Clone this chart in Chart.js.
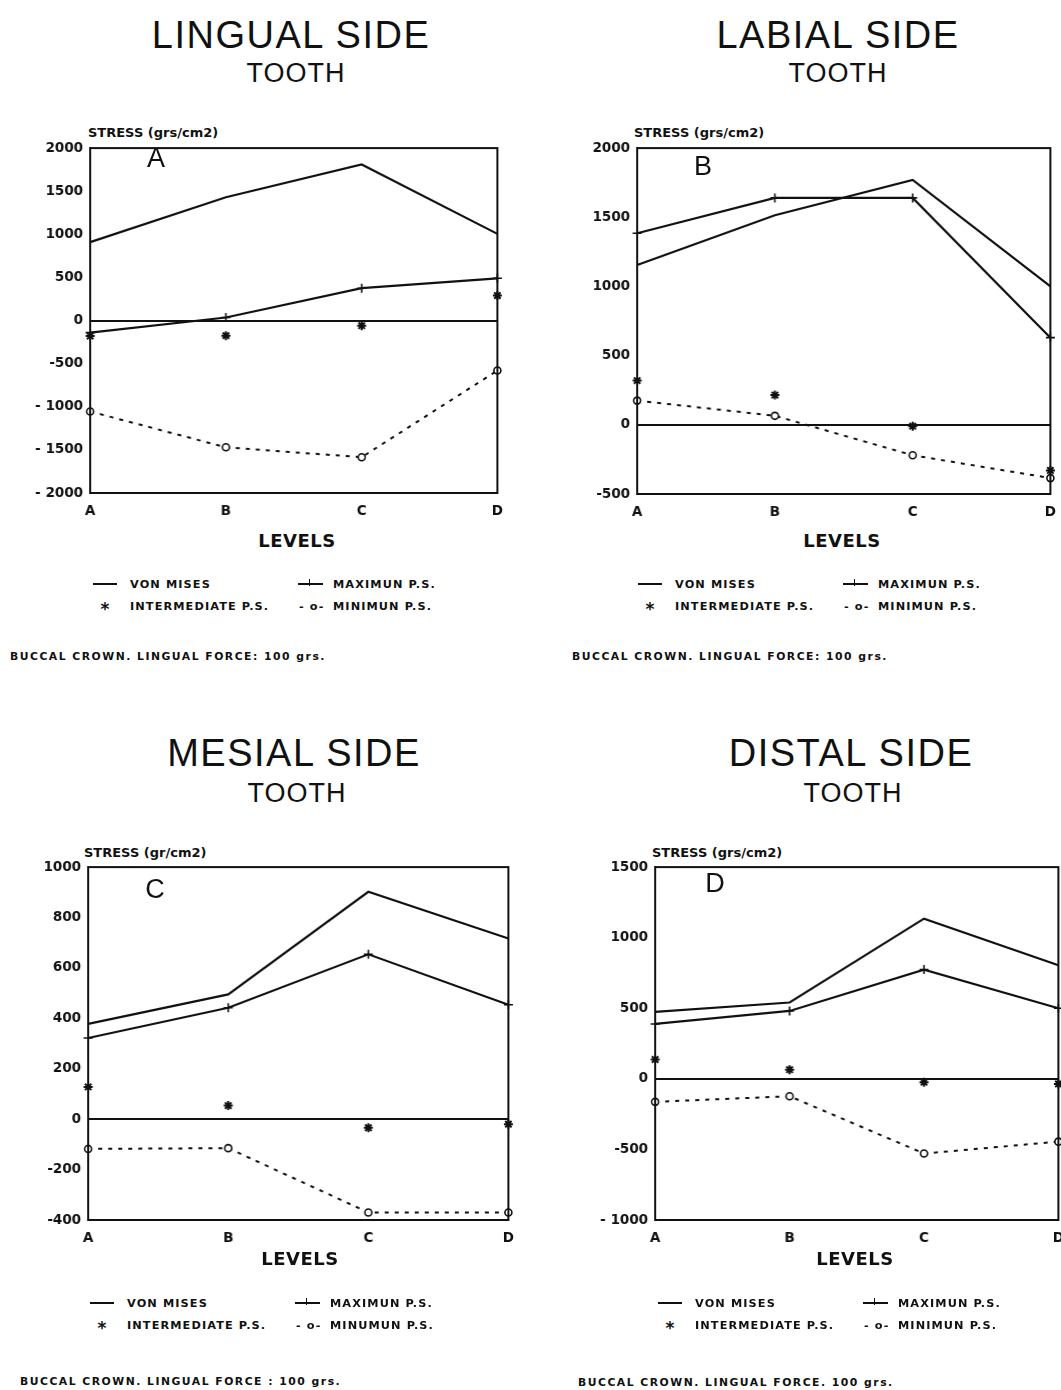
<!DOCTYPE html>
<html>
<head>
<meta charset="utf-8">
<script src="https://cdn.jsdelivr.net/npm/chart.js@4.4.1/dist/chart.umd.min.js"></script>
<style>
  html, body { margin: 0; padding: 0; background: #fff; }
  body { position: relative; width: 1061px; height: 1390px; overflow: hidden; color: #111; }
  .abs { position: absolute; white-space: nowrap; }
  .title { font-family: "Liberation Sans", Arial, sans-serif; font-size: 38px; letter-spacing: 1.5px; transform: translate(-50%, -50%); }
  .sub { font-family: "Liberation Sans", Arial, sans-serif; font-size: 27px; letter-spacing: 1px; transform: translate(-50%, -50%); }
  .bold { font-family: "DejaVu Sans", sans-serif; font-weight: bold; }
  .ylab { font-size: 13px; transform: translateY(-50%); }
  .letter { font-family: "Liberation Sans", Arial, sans-serif; font-size: 27px; transform: translate(-50%, -50%); }
  .levels { font-size: 18px; letter-spacing: 0.5px; transform: translate(-50%, -50%); }
  .leg { font-size: 11.3px; letter-spacing: 1.1px; transform: translateY(-50%); }
  .star { font-size: 17px; transform: translate(-50%, -35%); }
  .foot { font-size: 10.8px; letter-spacing: 1.5px; transform: translateY(-50%); }
  .swatch { position: absolute; height: 0; border-top: 2px solid #111; transform: translateY(-1px); }
  .wrap { position: absolute; }
</style>
</head>
<body>

<script>
// x categories
const levels = ['A', 'B', 'C', 'D'];

// LINGUAL SIDE (A)
const vonMisesA = [910, 1430, 1810, 1005];
const maxPSA = [-140, 35, 375, 490];
const interPSA = [-180, -175, -60, 290];
const minPSA = [-1055, -1470, -1585, -580];
const yTicksA = [-2000, -1500, -1000, -500, 0, 500, 1000, 1500, 2000];
const yLabelsA = ['- 2000', '- 1500', '- 1000', '-500', '0', '500', '1000', '1500', '2000'];

// LABIAL SIDE (B)
const vonMisesB = [1155, 1515, 1770, 1000];
const maxPSB = [1385, 1640, 1640, 630];
const interPSB = [320, 215, -10, -330];
const minPSB = [175, 65, -220, -385];
const yTicksB = [-500, 0, 500, 1000, 1500, 2000];
const yLabelsB = ['-500', '0', '500', '1000', '1500', '2000'];

// MESIAL SIDE (C)
const vonMisesC = [378, 495, 902, 717];
const maxPSC = [322, 442, 654, 454];
const interPSC = [128, 54, -34, -20];
const minPSC = [-118, -115, -370, -370];
const yTicksC = [-400, -200, 0, 200, 400, 600, 800, 1000];
const yLabelsC = ['-400', '-200', '0', '200', '400', '600', '800', '1000'];

// DISTAL SIDE (D)
const vonMisesD = [474, 541, 1135, 805];
const maxPSD = [389, 481, 774, 500];
const interPSD = [137, 65, -24, -36];
const minPSD = [-163, -123, -529, -445];
const yTicksD = [-1000, -500, 0, 500, 1000, 1500];
const yLabelsD = ['- 1000', '-500', '0', '500', '1000', '1500'];

const INK = '#111';

// box round the plot area, like the original plotter frame
const framePlugin = {
    id: 'frame',
    afterDraw(chart) {
        const { ctx, chartArea: a } = chart;
        ctx.save();
        ctx.strokeStyle = INK;
        ctx.lineWidth = 2;
        ctx.strokeRect(a.left, a.top, a.right - a.left, a.bottom - a.top);
        ctx.restore();
    }
};

function addText(cls, x, y, text) {
    const el = document.createElement('div');
    el.className = 'abs ' + cls;
    el.style.left = x + 'px';
    el.style.top = y + 'px';
    el.textContent = text;
    document.body.appendChild(el);
    return el;
}

function addSwatch(x, y, w) {
    const el = document.createElement('div');
    el.className = 'swatch';
    el.style.left = x + 'px';
    el.style.top = y + 'px';
    el.style.width = w + 'px';
    document.body.appendChild(el);
    return el;
}

function addLegend(x, y, minText) {
    // row 1
    addSwatch(x, y, 24);
    addText('bold leg', x + 37, y, 'VON MISES');
    addSwatch(x + 205, y, 25);
    const tick = addSwatch(x + 216, y - 4, 0);
    tick.style.borderTop = 'none';
    tick.style.borderLeft = '1.5px solid #111';
    tick.style.height = '7px';
    addText('bold leg', x + 240, y, 'MAXIMUN P.S.');
    // row 2
    addText('bold star', x + 12, y + 22, '*');
    addText('bold leg', x + 37, y + 22, 'INTERMEDIATE P.S.');
    addText('bold leg', x + 206, y + 22, '- o-');
    addText('bold leg', x + 240, y + 22, minText);
}

function chartConfig(p) {
    const tickFont = { family: 'DejaVu Sans', weight: 'bold', size: 13.5 };
    return {
        type: 'line',
        data: {
            labels: levels,
            datasets: [
                {
                    label: 'VON MISES',
                    data: p.vonMises,
                    borderColor: INK,
                    borderWidth: 2.2,
                    pointRadius: 0
                },
                {
                    label: 'MAXIMUN P.S.',
                    data: p.maxPS,
                    borderColor: INK,
                    borderWidth: 2.2,
                    pointStyle: 'cross',
                    pointRadius: 4.5,
                    pointBorderWidth: 1.6,
                    pointBorderColor: INK
                },
                {
                    label: 'INTERMEDIATE P.S.',
                    data: p.interPS,
                    showLine: false,
                    pointStyle: 'star',
                    pointRadius: 4.5,
                    pointBorderWidth: 2,
                    pointBorderColor: INK
                },
                {
                    label: 'MINIMUN P.S.',
                    data: p.minPS,
                    borderColor: INK,
                    borderWidth: 2,
                    borderDash: [4, 6],
                    pointStyle: 'circle',
                    pointRadius: 3.5,
                    pointBorderWidth: 1.6,
                    pointBorderColor: INK,
                    pointBackgroundColor: '#fff'
                }
            ]
        },
        options: {
            responsive: false,
            animation: false,
            layout: { padding: { top: 10, right: 10, left: 0, bottom: 0 } },
            plugins: {
                legend: { display: false },
                tooltip: { enabled: false }
            },
            scales: {
                x: {
                    offset: false,
                    grid: { display: false, drawTicks: false },
                    border: { color: INK, width: 2 },
                    ticks: { color: INK, font: tickFont, padding: 10, maxRotation: 0, autoSkip: false },
                    afterFit(s) { s.height = 32; }
                },
                y: {
                    min: p.yTicks[0],
                    max: p.yTicks[p.yTicks.length - 1],
                    afterBuildTicks(s) { s.ticks = p.yTicks.map(v => ({ value: v })); },
                    grid: {
                        drawTicks: false,
                        color: ctx => (ctx.tick && ctx.tick.value === 0 ? INK : 'rgba(0,0,0,0)'),
                        lineWidth: 2
                    },
                    border: { color: INK, width: 2 },
                    ticks: {
                        color: INK,
                        font: tickFont,
                        padding: 7,
                        callback: (v, i) => p.yLabels[i]
                    },
                    afterFit(s) { s.width = 85; }
                }
            }
        },
        plugins: [framePlugin]
    };
}

function makeChart(p) {
    const wrap = document.createElement('div');
    wrap.className = 'wrap';
    document.body.appendChild(wrap);
    let w = p.right - p.left + 100;
    let h = p.bottom - p.top + 45;

    function build() {
        wrap.innerHTML = '';
        const canvas = document.createElement('canvas');
        canvas.width = w;
        canvas.height = h;
        canvas.style.width = w + 'px';
        canvas.style.height = h + 'px';
        wrap.appendChild(canvas);
        return new Chart(canvas, chartConfig(p));
    }

    // first pass to measure the plot area, second pass sized so it lands on the target box
    let chart = build();
    const a = chart.chartArea;
    w += (p.right - p.left) - (a.right - a.left);
    h += (p.bottom - p.top) - (a.bottom - a.top);
    chart.destroy();
    chart = build();
    const b = chart.chartArea;
    wrap.style.left = (p.left - b.left) + 'px';
    wrap.style.top = (p.top - b.top) + 'px';
    return chart;
}

// ---- panel A
addText('title', 291, 35, 'LINGUAL  SIDE');
addText('sub', 296, 73, 'TOOTH');
addText('bold ylab', 88, 132, 'STRESS (grs/cm2)');
makeChart({ left: 90, right: 497, top: 148, bottom: 493,
    vonMises: vonMisesA, maxPS: maxPSA, interPS: interPSA, minPS: minPSA,
    yTicks: yTicksA, yLabels: yLabelsA });
addText('letter', 156, 158, 'A');
addText('bold levels', 297, 540, 'LEVELS');
addLegend(93, 584, 'MINIMUN P.S.');
addText('bold foot', 10, 656, 'BUCCAL CROWN. LINGUAL FORCE: 100 grs.');

// ---- panel B
addText('title', 838, 35, 'LABIAL  SIDE');
addText('sub', 838, 73, 'TOOTH');
addText('bold ylab', 634, 132, 'STRESS (grs/cm2)');
makeChart({ left: 637, right: 1050, top: 148, bottom: 494,
    vonMises: vonMisesB, maxPS: maxPSB, interPS: interPSB, minPS: minPSB,
    yTicks: yTicksB, yLabels: yLabelsB });
addText('letter', 703, 166, 'B');
addText('bold levels', 842, 540, 'LEVELS');
addLegend(638, 584, 'MINIMUN P.S.');
addText('bold foot', 572, 656, 'BUCCAL CROWN. LINGUAL FORCE: 100 grs.');

// ---- panel C
addText('title', 294, 753, 'MESIAL  SIDE');
addText('sub', 297, 793, 'TOOTH');
addText('bold ylab', 84, 852, 'STRESS (gr/cm2)');
makeChart({ left: 88, right: 508, top: 867, bottom: 1220,
    vonMises: vonMisesC, maxPS: maxPSC, interPS: interPSC, minPS: minPSC,
    yTicks: yTicksC, yLabels: yLabelsC });
addText('letter', 155, 889, 'C');
addText('bold levels', 300, 1258, 'LEVELS');
addLegend(90, 1303, 'MINUMUN P.S.');
addText('bold foot', 20, 1381, 'BUCCAL CROWN. LINGUAL FORCE : 100 grs.');

// ---- panel D
addText('title', 851, 753, 'DISTAL  SIDE');
addText('sub', 853, 793, 'TOOTH');
addText('bold ylab', 652, 852, 'STRESS (grs/cm2)');
makeChart({ left: 655, right: 1058, top: 867, bottom: 1220,
    vonMises: vonMisesD, maxPS: maxPSD, interPS: interPSD, minPS: minPSD,
    yTicks: yTicksD, yLabels: yLabelsD });
addText('letter', 715, 883, 'D');
addText('bold levels', 855, 1258, 'LEVELS');
addLegend(658, 1303, 'MINIMUN P.S.');
addText('bold foot', 578, 1382, 'BUCCAL CROWN. LINGUAL FORCE. 100 grs.');
</script>
</body>
</html>
